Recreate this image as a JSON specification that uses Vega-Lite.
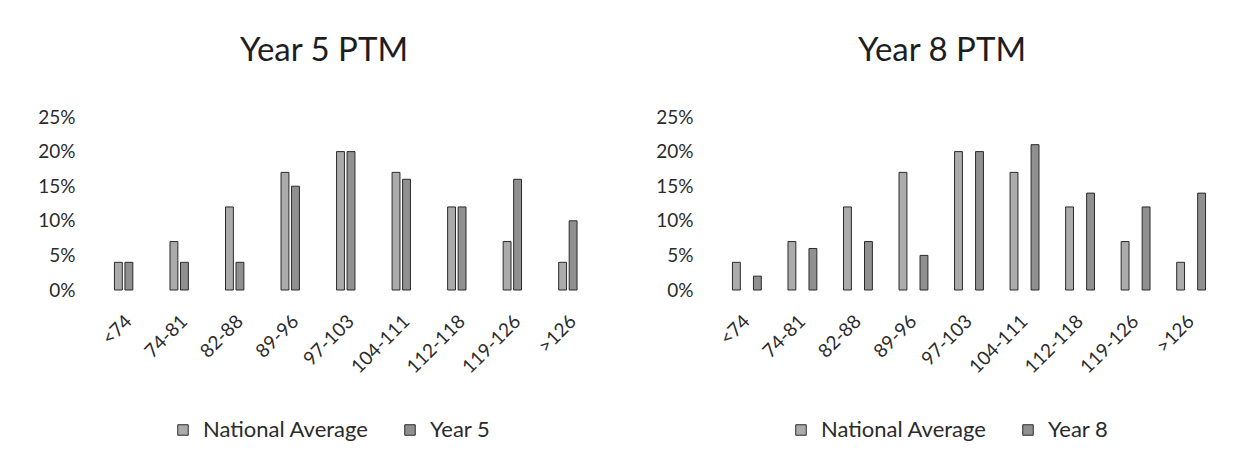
{
  "$schema": "https://vega.github.io/schema/vega-lite/v6.json",
  "background": "white",
  "padding": {"left": 37, "top": 35, "right": 10, "bottom": 5},
  "config": {
    "font": "Lato",
    "view": {"stroke": null},
    "axis": {
      "labelFont": "Lato",
      "labelColor": "#2b2b2b",
      "labelFontSize": 19,
      "domain": false,
      "ticks": false,
      "grid": false,
      "title": null
    },
    "title": {"font": "Lato", "fontSize": 33, "fontWeight": "normal", "color": "#1e1e1e"},
    "legend": {
      "labelFont": "Lato",
      "labelFontSize": 22,
      "labelColor": "#2b2b2b",
      "labelOffset": 9,
      "labelLimit": 0,
      "symbolType": "square",
      "symbolSize": 110,
      "symbolStrokeColor": "#2a2a2a",
      "symbolStrokeWidth": 1,
      "columnPadding": 30,
      "title": null
    }
  },
  "datasets": {
    "y5": [
      {"range": "<74", "series": "National Average", "pct": 0.04},
      {"range": "<74", "series": "Year 5", "pct": 0.04},
      {"range": "74-81", "series": "National Average", "pct": 0.07},
      {"range": "74-81", "series": "Year 5", "pct": 0.04},
      {"range": "82-88", "series": "National Average", "pct": 0.12},
      {"range": "82-88", "series": "Year 5", "pct": 0.04},
      {"range": "89-96", "series": "National Average", "pct": 0.17},
      {"range": "89-96", "series": "Year 5", "pct": 0.15},
      {"range": "97-103", "series": "National Average", "pct": 0.20},
      {"range": "97-103", "series": "Year 5", "pct": 0.20},
      {"range": "104-111", "series": "National Average", "pct": 0.17},
      {"range": "104-111", "series": "Year 5", "pct": 0.16},
      {"range": "112-118", "series": "National Average", "pct": 0.12},
      {"range": "112-118", "series": "Year 5", "pct": 0.12},
      {"range": "119-126", "series": "National Average", "pct": 0.07},
      {"range": "119-126", "series": "Year 5", "pct": 0.16},
      {"range": ">126", "series": "National Average", "pct": 0.04},
      {"range": ">126", "series": "Year 5", "pct": 0.10}
    ],
    "y8": [
      {"range": "<74", "series": "National Average", "pct": 0.04},
      {"range": "<74", "series": "Year 8", "pct": 0.02},
      {"range": "74-81", "series": "National Average", "pct": 0.07},
      {"range": "74-81", "series": "Year 8", "pct": 0.06},
      {"range": "82-88", "series": "National Average", "pct": 0.12},
      {"range": "82-88", "series": "Year 8", "pct": 0.07},
      {"range": "89-96", "series": "National Average", "pct": 0.17},
      {"range": "89-96", "series": "Year 8", "pct": 0.05},
      {"range": "97-103", "series": "National Average", "pct": 0.20},
      {"range": "97-103", "series": "Year 8", "pct": 0.20},
      {"range": "104-111", "series": "National Average", "pct": 0.17},
      {"range": "104-111", "series": "Year 8", "pct": 0.21},
      {"range": "112-118", "series": "National Average", "pct": 0.12},
      {"range": "112-118", "series": "Year 8", "pct": 0.14},
      {"range": "119-126", "series": "National Average", "pct": 0.07},
      {"range": "119-126", "series": "Year 8", "pct": 0.12},
      {"range": ">126", "series": "National Average", "pct": 0.04},
      {"range": ">126", "series": "Year 8", "pct": 0.14}
    ]
  },
  "spacing": 53,
  "resolve": {"scale": {"color": "independent"}, "legend": {"color": "independent"}},
  "hconcat": [
    {
      "title": {"text": "Year 5 PTM", "dx": -27, "offset": 40},
      "width": 502,
      "height": 173,
      "data": {"name": "y5"},
      "mark": {"type": "bar", "stroke": "#2a2a2a", "strokeWidth": 1},
      "encoding": {
        "x": {
          "field": "range",
          "type": "nominal",
          "sort": ["<74", "74-81", "82-88", "89-96", "97-103", "104-111", "112-118", "119-126", ">126"],
          "scale": {"paddingInner": 0.48, "paddingOuter": 0.26},
          "axis": {"labelAngle": -45, "labelPadding": 28, "labelAlign": "right", "labelBaseline": "middle"}
        },
        "xOffset": {
          "field": "series",
          "sort": ["National Average", "Year 5"],
          "scale": {"paddingInner": 0.25, "paddingOuter": 0}
        },
        "y": {
          "field": "pct",
          "type": "quantitative",
          "scale": {"domain": [0, 0.25]},
          "axis": {"format": ".0%", "values": [0, 0.05, 0.1, 0.15, 0.2, 0.25], "labelPadding": 25}
        },
        "color": {
          "field": "series",
          "type": "nominal",
          "sort": ["National Average", "Year 5"],
          "scale": {"range": ["#ababab", "#909090"]},
          "legend": {"orient": "none", "direction": "horizontal", "legendX": 72, "legendY": 302}
        }
      }
    },
    {
      "title": {"text": "Year 8 PTM", "dx": -27, "offset": 40},
      "width": 502,
      "height": 173,
      "data": {"name": "y8"},
      "mark": {"type": "bar", "stroke": "#2a2a2a", "strokeWidth": 1},
      "encoding": {
        "x": {
          "field": "range",
          "type": "nominal",
          "sort": ["<74", "74-81", "82-88", "89-96", "97-103", "104-111", "112-118", "119-126", ">126"],
          "scale": {"paddingInner": 0.48, "paddingOuter": 0.26},
          "axis": {"labelAngle": -45, "labelPadding": 28, "labelAlign": "right", "labelBaseline": "middle"}
        },
        "xOffset": {
          "field": "series",
          "sort": ["National Average", "Year 8"],
          "scale": {"paddingInner": 0.25, "paddingOuter": 0}
        },
        "y": {
          "field": "pct",
          "type": "quantitative",
          "scale": {"domain": [0, 0.25]},
          "axis": {"format": ".0%", "values": [0, 0.05, 0.1, 0.15, 0.2, 0.25], "labelPadding": 25}
        },
        "color": {
          "field": "series",
          "type": "nominal",
          "sort": ["National Average", "Year 8"],
          "scale": {"range": ["#ababab", "#909090"]},
          "legend": {"orient": "none", "direction": "horizontal", "legendX": 72, "legendY": 302}
        }
      }
    }
  ]
}
